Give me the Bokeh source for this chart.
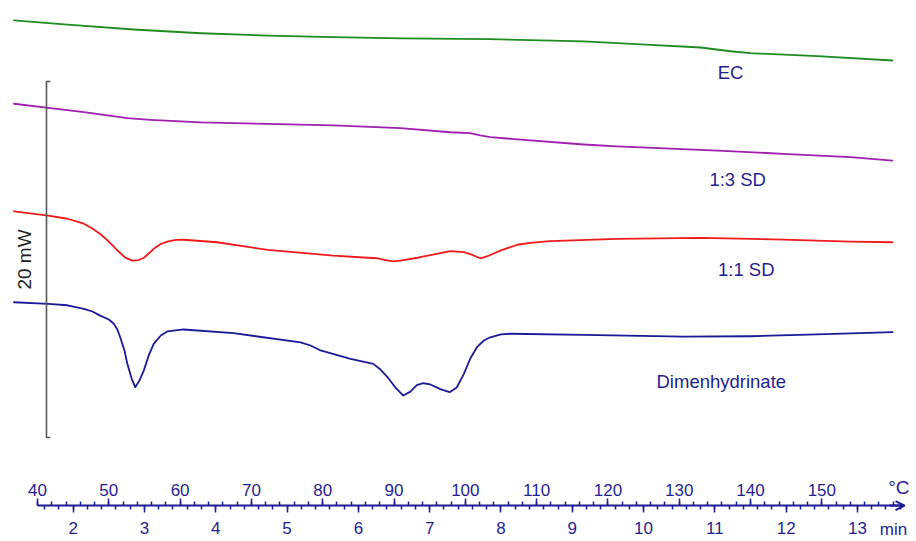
import numpy as np
from bokeh.plotting import figure
from bokeh.models import LinearAxis, FixedTicker, Range1d, Label, Arrow, OpenHead
from bokeh.embed import file_html
from bokeh.resources import INLINE

# ---------------- data (temperature in degC, heat flow in mW, curves offset) ----------------
ec_temp = [36.7, 44.2, 53.5, 62.9, 72.3, 81.5, 90.9, 99.3, 103.5, 116.6, 126.0, 133.0, 137.2, 140.0, 149.4, 159.9]
ec_mw = [23.43, 23.19, 22.92, 22.71, 22.58, 22.49, 22.42, 22.39, 22.38, 22.25, 22.06, 21.91, 21.70, 21.59, 21.42, 21.18]

sd13_temp = [36.7, 41.5, 46.5, 48.8, 52.6, 55.8, 62.9, 72.3, 81.5, 90.9, 97.9, 100.7, 102.1, 103.5, 116.6, 121.3,
             135.4, 144.6, 154.0, 159.9]
sd13_mw = [18.75, 18.52, 18.28, 18.15, 17.94, 17.85, 17.70, 17.62, 17.53, 17.38, 17.15, 17.10, 16.97, 16.87, 16.46, 16.35,
           16.12, 15.94, 15.75, 15.56]

sd11_temp = [36.7, 41.5, 44.2, 46.5, 47.7, 48.8, 50.0, 51.2, 52.3, 53.3, 54.2, 54.9, 55.6, 56.3, 57.3, 58.2, 59.4,
             60.5, 65.2, 72.3, 81.5, 86.3, 87.7, 88.8, 89.9, 90.9, 93.3, 97.9, 99.8, 100.7, 102.1, 103.0, 105.0,
             107.3, 109.1, 111.9, 121.3, 133.0, 144.6, 154.0, 159.9]
sd11_mw = [12.71, 12.47, 12.29, 12.01, 11.74, 11.44, 11.01, 10.51, 10.11, 9.94, 9.97, 10.10, 10.34, 10.60, 10.87, 11.01,
           11.10, 11.11, 10.97, 10.54, 10.22, 10.10, 10.07, 9.97, 9.89, 9.94, 10.10, 10.47, 10.41, 10.30, 10.07, 10.17,
           10.51, 10.83, 10.94, 11.03, 11.16, 11.22, 11.12, 11.01, 10.97]

dim_temp = [36.7, 41.5, 44.2, 46.5, 47.7, 48.8, 50.0, 50.7, 51.2, 51.6, 52.2, 52.6, 53.2, 53.7, 54.3, 54.9, 55.6,
            56.3, 57.3, 58.2, 60.5, 67.5, 76.9, 78.3, 79.7, 83.9, 87.1, 88.1, 89.1, 90.2, 91.3, 92.3, 93.2, 94.1,
            95.1, 96.5, 97.8, 98.8, 99.8, 100.7, 101.7, 102.6, 103.5, 105.0, 106.3, 116.6, 130.6, 140.0, 149.4, 159.9]
dim_mw = [7.60, 7.51, 7.43, 7.23, 7.08, 6.85, 6.63, 6.39, 6.07, 5.63, 4.89, 4.14, 3.31, 2.83, 3.20, 3.76, 4.61,
          5.26, 5.73, 5.96, 6.07, 5.86, 5.35, 5.17, 4.89, 4.42, 4.14, 3.82, 3.39, 2.81, 2.36, 2.58, 2.95, 3.05,
          2.98, 2.72, 2.55, 2.81, 3.58, 4.44, 5.11, 5.45, 5.63, 5.79, 5.83, 5.77, 5.67, 5.69, 5.79, 5.92]

curve_names = ["EC", "1:3 SD", "1:1 SD", "Dimenhydrinate"]
label_temp = [137.2, 138.2, 139.4, 135.9]
label_mw = [20.51, 14.5, 9.44, 3.12]

temp_ticks = [40, 50, 60, 70, 80, 90, 100, 110, 120, 130, 140, 150]
time_ticks = [2, 3, 4, 5, 6, 7, 8, 9, 10, 11, 12, 13]
scale_bar_mw = 20  # mW

# ---------------- styling ----------------
FONT = "Liberation Sans"
NAVY = "#1f1f8f"
AXIS_NAVY = "#1c1c94"
colors = ["#1e8c1e", "#a01fb0", "#f01a1a", "#1a1a96"]

x0, x1 = 34.81, 163.28
y0, y1 = -5.84, 24.55
axis_y = -3.82


def temp_to_time(t):
    return (t - 25.0) / 10.0


p = figure(width=916, height=541, output_backend="svg", toolbar_location=None,
           x_range=Range1d(x0, x1), y_range=Range1d(y0, y1),
           x_axis_type=None, y_axis_type=None, min_border=0)
p.outline_line_color = None
p.background_fill_color = "white"
p.border_fill_color = "white"
p.extra_x_ranges = {"time": Range1d(temp_to_time(x0), temp_to_time(x1))}

series = [(ec_temp, ec_mw), (sd13_temp, sd13_mw), (sd11_temp, sd11_mw), (dim_temp, dim_mw)]
for (tx, ty), c in zip(series, colors):
    p.line(tx, ty, line_color=c, line_width=1.8, line_join="round", line_cap="round")

for name, lx, ly in zip(curve_names, label_temp, label_mw):
    p.add_layout(Label(x=lx, y=ly, text=name, text_align="center", text_baseline="middle",
                       text_font=FONT, text_font_size="18.5px", text_color=NAVY))

# scale bar
bar_x = 41.26
tick_len = 0.55
p.line([bar_x + tick_len, bar_x, bar_x, bar_x + tick_len],
       [scale_bar_mw, scale_bar_mw, 0, 0], line_color="#555555", line_width=1.6)
p.add_layout(Label(x=38.2, y=scale_bar_mw / 2, text=f"{scale_bar_mw} mW", angle=np.pi / 2,
                   text_align="center", text_baseline="middle", text_font=FONT,
                   text_font_size="19px", text_color="#222222"))

# temperature axis (labels above the line) and time axis (labels below)
t_end = 161.6
temp_axis = LinearAxis(fixed_location=axis_y, bounds=(40, t_end),
                       ticker=FixedTicker(ticks=temp_ticks,
                                          minor_ticks=list(np.arange(40, 161, 2))))
time_axis = LinearAxis(x_range_name="time", fixed_location=axis_y,
                       bounds=(temp_to_time(40), temp_to_time(t_end)),
                       ticker=FixedTicker(ticks=time_ticks,
                                          minor_ticks=[round(v, 1) for v in np.arange(1.6, 13.61, 0.2)]))
for ax in (temp_axis, time_axis):
    ax.major_label_text_font = FONT
    ax.major_label_text_font_size = "17px"
    ax.major_label_text_color = NAVY
    ax.major_tick_line_color = AXIS_NAVY
    ax.minor_tick_line_color = AXIS_NAVY
    ax.major_tick_line_width = 1.5
    ax.minor_tick_line_width = 1.5
    ax.major_tick_in = 0
    ax.minor_tick_in = 0
    ax.major_tick_out = 7
    ax.minor_tick_out = 4
    ax.axis_line_color = AXIS_NAVY
    ax.axis_line_width = 2

temp_axis.major_label_standoff = 3
time_axis.major_label_standoff = 9
time_axis.axis_line_color = None
p.add_layout(temp_axis, "above")
p.add_layout(time_axis, "below")

p.add_layout(Arrow(end=OpenHead(size=9, line_color=AXIS_NAVY, line_width=2),
                   x_start=159.5, x_end=t_end, y_start=axis_y, y_end=axis_y,
                   line_color=AXIS_NAVY, line_width=2))

p.add_layout(Label(x=160.8, y=-2.81, text="°C", text_align="center", text_baseline="middle",
                   text_font=FONT, text_font_size="19px", text_color=NAVY))
p.add_layout(Label(x=160.05, y=-5.15, text="min", text_align="center", text_baseline="middle",
                   text_font=FONT, text_font_size="17px", text_color=NAVY))

open("out.html", "w").write(file_html(p, INLINE))
